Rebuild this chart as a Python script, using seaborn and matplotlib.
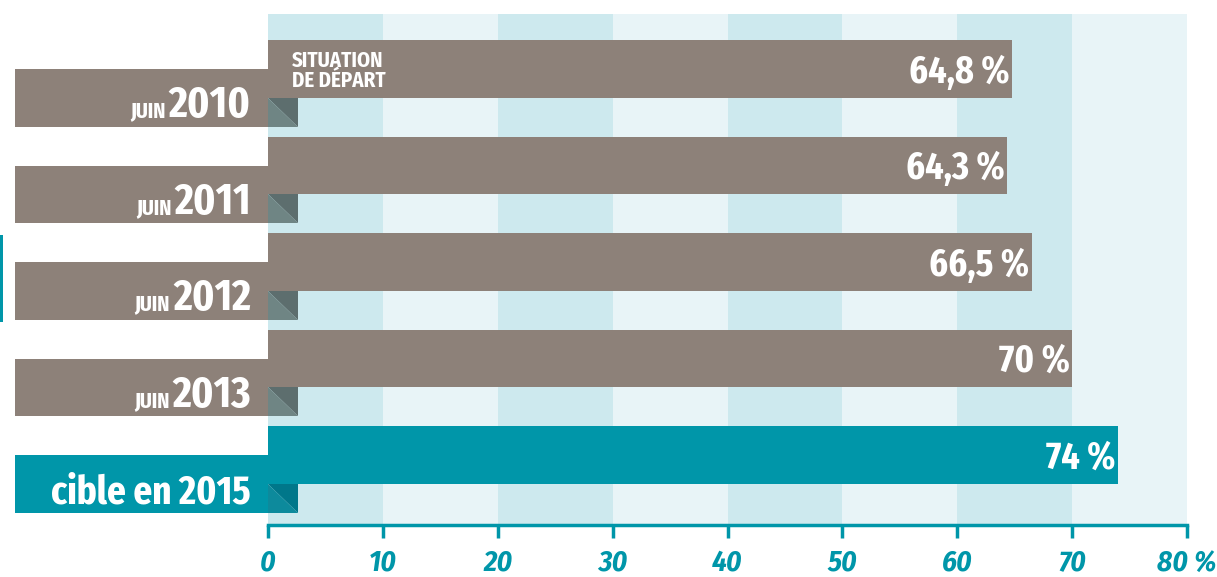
import matplotlib
matplotlib.use("Agg")
import matplotlib.pyplot as plt
import seaborn as sns
from matplotlib.patches import Rectangle, Polygon

# data
years = ["2010", "2011", "2012", "2013", "cible en 2015"]
prefix = ["JUIN", "JUIN", "JUIN", "JUIN", ""]
values = [64.8, 64.3, 66.5, 70, 74]
value_labels = ["64,8 %", "64,3 %", "66,5 %", "70 %", "74 %"]
ticks = [0, 10, 20, 30, 40, 50, 60, 70, 80]
tick_labels = ["0", "10", "20", "30", "40", "50", "60", "70", "80 %"]

grey = "#8d8179"
teal = "#0096a9"
colors = [grey, grey, grey, grey, teal]
fold_dark = ["#5d6e6e"] * 4 + ["#00778a"]
fold_light = ["#6f8584"] * 4 + ["#0d8a9c"]

sns.set_style("white")
cond = ["Fira Sans Extra Condensed", "DejaVu Sans"]
plt.rcParams["font.family"] = cond

fig = plt.figure(figsize=(12.17, 5.77), dpi=100)
ax = fig.add_axes([268 / 1217, 52 / 577, 919 / 1217, 511 / 577])

# alternating background bands
for i in range(8):
    ax.axvspan(i * 10, (i + 1) * 10, color="#cde9ee" if i % 2 == 0 else "#e8f4f7",
               zorder=0, lw=0)

sns.barplot(x=values, y=years, hue=years, palette=colors, orient="h",
            width=0.6, legend=False, ax=ax, saturation=1, linewidth=0, zorder=3)

ax.set_xlim(0, 80)
ax.set_ylim(4.725, -0.57)

for i, v in enumerate(values):
    # ribbon on the left
    ax.add_patch(Rectangle((-22.0, i), 22.0, 0.6, color=colors[i],
                           clip_on=False, zorder=3, lw=0))
    # folded corner
    ax.add_patch(Polygon([(0, i + 0.3), (2.6, i + 0.3), (2.6, i + 0.6)],
                         color=fold_dark[i], clip_on=False, zorder=3, lw=0))
    ax.add_patch(Polygon([(0, i + 0.3), (0, i + 0.6), (2.6, i + 0.6)],
                         color=fold_light[i], clip_on=False, zorder=3, lw=0))
    # value label
    ax.text(v - 0.2, i + 0.14, value_labels[i], ha="right", va="baseline",
            color="white", fontsize=28, fontweight="bold", zorder=5)

# year labels
renderer = fig.canvas.get_renderer()
for i, y in enumerate(years):
    big = 32 if prefix[i] else 29
    t = ax.text(-1.5, i + 0.5, y, ha="right", va="baseline", color="white",
                fontsize=big, fontweight="bold", clip_on=False, zorder=5)
    if prefix[i]:
        bb = t.get_window_extent(renderer=renderer)
        x0 = ax.transData.inverted().transform((bb.x0 - 3, 0))[0]
        ax.text(x0, i + 0.5, prefix[i], ha="right", va="baseline", color="white",
                fontsize=16, fontweight="bold", clip_on=False, zorder=5)

ax.text(2.1, -0.19, "SITUATION\nDE DÉPART", ha="left", va="top", color="white",
        fontsize=15, fontweight="bold", linespacing=0.9, zorder=5,
        family=["Fira Sans Condensed", "DejaVu Sans"])

# axis styling
for s in ["top", "right", "left"]:
    ax.spines[s].set_visible(False)
ax.spines["bottom"].set_color(teal)
ax.spines["bottom"].set_linewidth(2.5)
ax.spines["bottom"].set_zorder(6)
ax.set_yticks([])
ax.set_xticks(ticks)
ax.set_xticklabels(tick_labels, fontsize=21, fontweight="bold", style="italic",
                   color=teal, family=["Fira Sans Condensed", "DejaVu Sans"])
ax.tick_params(axis="x", direction="out", length=9, width=2.5, color=teal,
               pad=8, bottom=True)
ax.set_xlabel("")
ax.set_ylabel("")

# small teal mark on the left edge
fig.add_artist(Rectangle((0, 1 - 322 / 577), 3 / 1217, 87 / 577,
                         transform=fig.transFigure, color=teal, lw=0))

fig.savefig("out.png", dpi=100)
